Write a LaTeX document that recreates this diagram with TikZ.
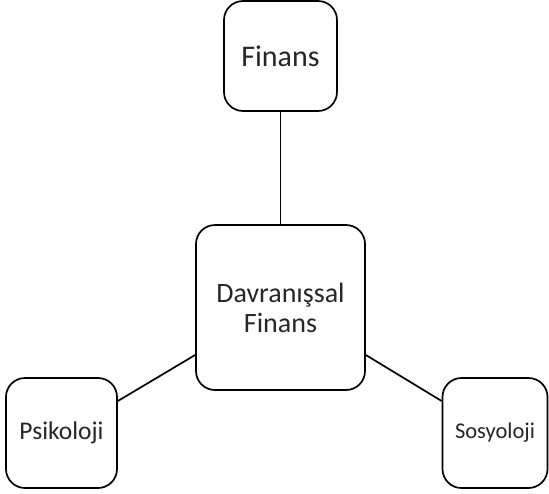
\documentclass[tikz,border=0pt]{standalone}
\usepackage{fontspec}
\setmainfont{Carlito}
\definecolor{labelgray}{gray}{0.15}
\tikzset{
  box/.style={draw, rectangle, rounded corners=19pt, line width=1.7pt,
    inner sep=0pt, align=center, text=labelgray},
  link/.style={line width=1.7pt}
}
\begin{document}
\begin{tikzpicture}[x=1pt,y=-1pt]
      \useasboundingbox (0,0) rectangle (549,493);
      \node[box, minimum width=113pt, minimum height=110pt, font=\fontsize{30}{34}\selectfont]
        (finans) at (280.5,56) {Finans};
      \node[box, minimum width=169pt, minimum height=165pt, font=\fontsize{28}{30}\selectfont]
        (davranis) at (280.5,307.5) {Davranışsal\\Finans};
      \node[box, minimum width=111pt, minimum height=110pt, font=\fontsize{25.5}{30}\selectfont]
        (psikoloji) at (61.5,433) {Psikoloji};
      \node[box, minimum width=105pt, minimum height=110pt, font=\fontsize{22.5}{27}\selectfont]
        (sosyoloji) at (495,433) {Sosyoloji};
      \begin{scope}[link]
        \draw (finans) to (davranis);
        \draw ([yshift=32pt]psikoloji.east) to ([yshift=-47.5pt]davranis.west);
        \draw ([yshift=32pt]sosyoloji.west) to ([yshift=-47.5pt]davranis.east);
      \end{scope}
    \end{tikzpicture}
\end{document}
